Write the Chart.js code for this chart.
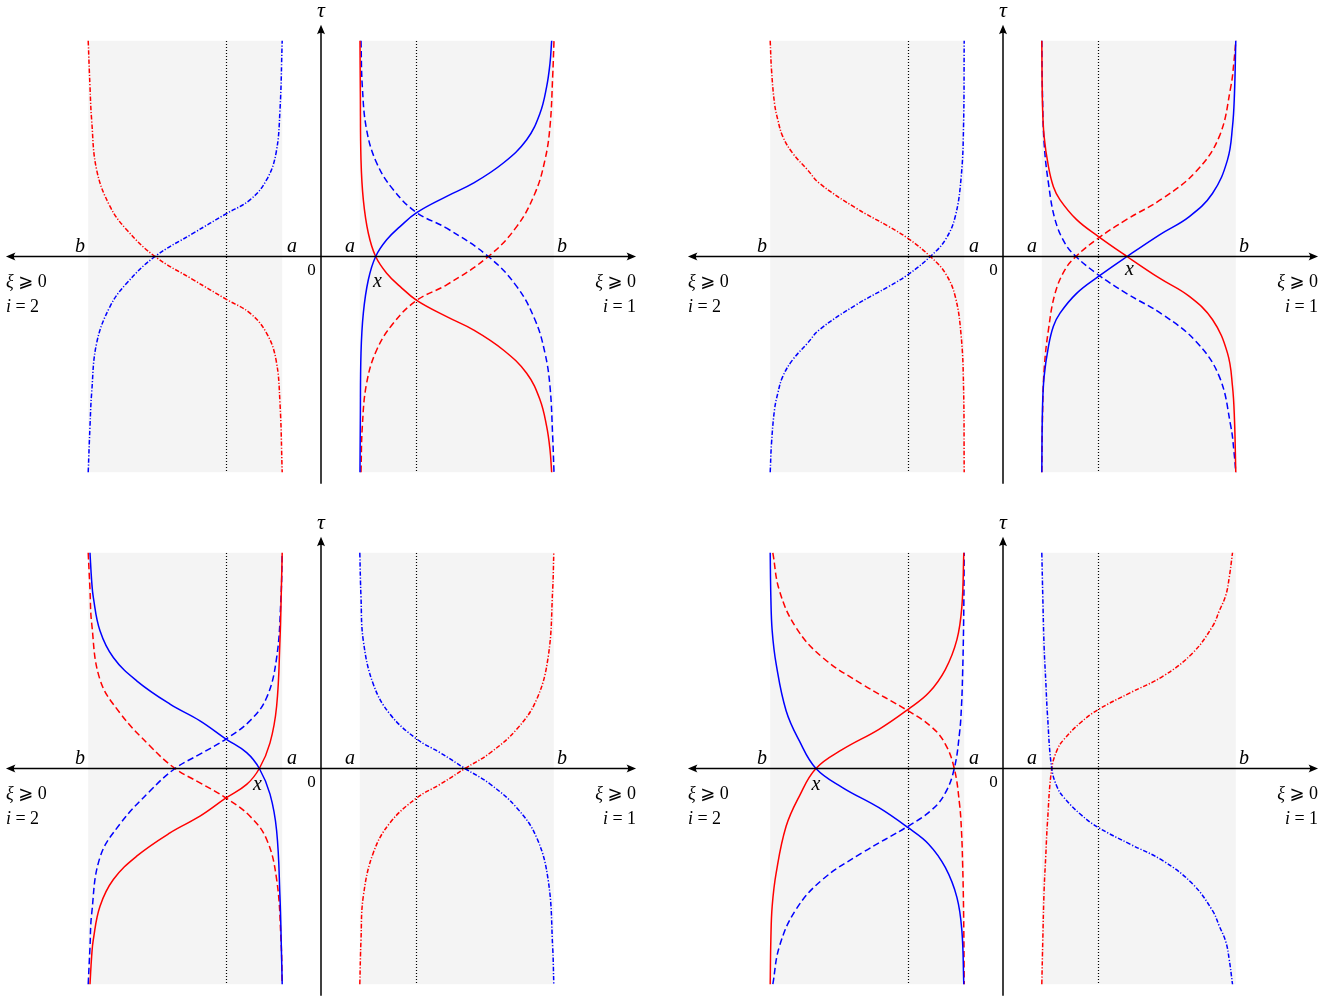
<!DOCTYPE html>
<html>
<head>
<meta charset="utf-8">
<script src="https://cdn.jsdelivr.net/npm/chart.js@4.4.1/dist/chart.umd.min.js"></script>
<style>
  body { margin: 0; background: #fff; }
  #wrap { position: relative; width: 1343px; height: 996px; overflow: hidden; }
  canvas { position: absolute; }
</style>
</head>
<body>
<div id="wrap">
  <canvas id="p1" width="671" height="512" style="left:0px;top:0px"></canvas>
  <canvas id="p2" width="661" height="512" style="left:682px;top:0px"></canvas>
  <canvas id="p3" width="671" height="484" style="left:0px;top:512px"></canvas>
  <canvas id="p4" width="661" height="484" style="left:682px;top:512px"></canvas>
</div>
<script>
// interval ends, midline and shading height (data units)
const A = 1, B = 6, MID = 2.46, SHADE = 5.56;
const tickNames = ['b', 'a', 'a', 'b'];
const tickAt = [-B, -A, A, B];

// top-left panel
const p1RightXi = [1.005, 1.014, 1.031, 1.091, 1.22, 1.409, 1.692, 2.036, 2.466, 3.239, 3.926, 4.699, 5.301, 5.644, 5.816, 5.902, 5.945];
const p1BlueSolid = [-5.56, -4.21, -2.49, -1.46, -0.6, 0, 0.43, 0.77, 1.13, 1.55, 1.89, 2.41, 3.01, 3.69, 4.38, 4.98, 5.56];
const p1RedSolid = [5.56, 4.21, 2.49, 1.46, 0.6, 0, -0.43, -0.77, -1.13, -1.55, -1.89, -2.41, -3.01, -3.69, -4.38, -4.98, -5.56];
const p1RightXiDash = [1.031, 1.065, 1.177, 1.435, 1.864, 2.466, 3.239, 4.313, 5.043, 5.515, 5.773, 5.902, 5.971, 6.005];
const p1BlueDashed = [5.56, 4.38, 3.26, 2.41, 1.72, 1.13, 0.73, 0, -0.77, -1.63, -2.49, -3.35, -4.64, -5.56];
const p1RedDashed = [-5.56, -4.38, -3.26, -2.41, -1.72, -1.13, -0.73, 0, 0.77, 1.63, 2.49, 3.35, 4.64, 5.56];
const p1LeftXi = [-6.0, -5.954, -5.911, -5.782, -5.438, -5.009, -4.278, -3.29, -2.448, -1.83, -1.4, -1.16, -1.057, -1.0];
const p1RedDashDot = [5.56, 4.38, 3.52, 2.23, 1.29, 0.69, 0, -0.6, -1.1, -1.46, -1.98, -2.66, -3.78, -5.56];
const p1BlueDashDot = [-5.56, -4.38, -3.52, -2.23, -1.29, -0.69, 0, 0.6, 1.1, 1.46, 1.98, 2.66, 3.78, 5.56];

// top-right panel
const p2RightXiSolid = [1.0, 1.017, 1.06, 1.171, 1.299, 1.47, 1.897, 2.453, 3.197, 4.034, 4.803, 5.402, 5.786, 5.915, 5.966, 6.0];
const p2RedSolid = [5.56, 3.95, 3.09, 2.32, 1.8, 1.46, 0.95, 0.52, 0, -0.56, -1.03, -1.63, -2.49, -3.35, -4.21, -5.56];
const p2BlueSolid = [-5.56, -3.95, -3.09, -2.32, -1.8, -1.46, -0.95, -0.52, 0, 0.56, 1.03, 1.63, 2.49, 3.35, 4.21, 5.56];
const p2RightXiDash = [1.0, 1.017, 1.06, 1.171, 1.342, 1.598, 1.88, 2.453, 3.179, 4.12, 4.974, 5.573, 5.872, 5.957, 6.0];
const p2RedDashed = [-5.56, -4.21, -2.92, -1.89, -0.95, -0.34, 0, 0.47, 0.95, 1.5, 2.19, 3.09, 4.38, 5.07, 5.56];
const p2BlueDashed = [5.56, 4.21, 2.92, 1.89, 0.95, 0.34, 0, -0.47, -0.95, -1.5, -2.19, -3.09, -4.38, -5.07, -5.56];
const p2LeftXi = [-6.0, -5.966, -5.889, -5.803, -5.675, -5.419, -5.034, -4.735, -3.795, -2.94, -2.453, -1.872, -1.487, -1.231, -1.077, -1.017, -1.0];
const p2RedDashDot = [5.56, 4.81, 3.95, 3.52, 3.09, 2.66, 2.23, 1.89, 1.25, 0.77, 0.47, 0, -0.43, -1.03, -2.06, -3.35, -5.56];
const p2BlueDashDot = [-5.56, -4.81, -3.95, -3.52, -3.09, -2.66, -2.23, -1.89, -1.25, -0.77, -0.47, 0, 0.43, 1.03, 2.06, 3.35, 5.56];

// bottom-left panel
const p3LeftXiSolid = [-5.954, -5.911, -5.868, -5.696, -5.352, -4.751, -3.892, -3.119, -2.448, -1.916, -1.589, -1.314, -1.143, -1.057, -1.022, -1.0];
const p3BlueSolid = [5.56, 4.84, 4.41, 3.55, 2.86, 2.26, 1.66, 1.23, 0.76, 0.41, 0, -0.66, -1.61, -3.32, -4.61, -5.56];
const p3RedSolid = [-5.56, -4.84, -4.41, -3.55, -2.86, -2.26, -1.66, -1.23, -0.76, -0.41, 0, 0.66, 1.61, 3.32, 4.61, 5.56];
const p3LeftXiDash = [-6.0, -5.954, -5.911, -5.696, -5.18, -4.407, -3.763, -3.119, -2.448, -1.83, -1.4, -1.143, -1.031, -1.0];
const p3BlueDashed = [-5.56, -4.61, -3.75, -2.29, -1.43, -0.58, 0, 0.37, 0.76, 1.23, 1.83, 2.86, 4.41, 5.56];
const p3RedDashed = [5.56, 4.61, 3.75, 2.29, 1.43, 0.58, 0, -0.37, -0.76, -1.23, -1.83, -2.86, -4.41, -5.56];
const p3RightXi = [1.0, 1.031, 1.091, 1.349, 1.778, 2.466, 3.067, 3.711, 4.356, 5.043, 5.558, 5.859, 5.971, 6.0];
const p3BlueDashDot = [5.56, 4.41, 3.29, 2.17, 1.4, 0.76, 0.41, 0, -0.4, -1.01, -1.78, -2.9, -4.61, -5.56];
const p3RedDashDot = [-5.56, -4.41, -3.29, -2.17, -1.4, -0.76, -0.41, 0, 0.4, 1.01, 1.78, 2.9, 4.61, 5.56];

// bottom-right panel
const p4LeftXiSolid = [-6.0, -5.983, -5.949, -5.846, -5.59, -5.248, -4.821, -4.137, -3.197, -2.453, -1.915, -1.487, -1.188, -1.06, -1.01];
const p4BlueSolid = [5.56, 4.41, 3.55, 2.69, 1.49, 0.71, 0, -0.49, -1.01, -1.52, -1.95, -2.55, -3.32, -4.18, -5.56];
const p4RedSolid = [-5.56, -4.41, -3.55, -2.69, -1.49, -0.71, 0, 0.49, 1.01, 1.52, 1.95, 2.55, 3.32, 4.18, 5.56];
const p4LeftXiDash = [-5.932, -5.761, -5.333, -4.65, -3.624, -2.453, -1.829, -1.487, -1.256, -1.12, -1.07, -1.04, -1.015, -1.0];
const p4RedDashed = [5.56, 4.58, 3.63, 2.86, 2.17, 1.49, 1.06, 0.63, 0, -0.92, -1.61, -2.47, -3.75, -5.56];
const p4BlueDashed = [-5.56, -4.58, -3.63, -2.86, -2.17, -1.49, -1.06, -0.63, 0, 0.92, 1.61, 2.47, 3.75, 5.56];
const p4RightXi = [1.0, 1.026, 1.06, 1.102, 1.145, 1.256, 1.4, 1.571, 1.997, 2.457, 3.274, 4.126, 4.893, 5.404, 5.574, 5.744, 5.83, 5.915];
const p4BlueDashDot = [5.56, 4.41, 3.12, 2.26, 1.4, 0, -0.49, -0.75, -1.18, -1.52, -1.95, -2.38, -2.98, -3.67, -4.06, -4.47, -4.92, -5.56];
const p4RedDashDot = [-5.56, -4.41, -3.12, -2.26, -1.4, 0, 0.49, 0.75, 1.18, 1.52, 1.95, 2.38, 2.98, 3.67, 4.06, 4.47, 4.92, 5.56];

// where the "x" mark sits in each panel
const crossXi = [1.456, 3.26, -1.64, -4.82];
const crossTau = [-0.65, -0.35, -0.43, -0.43];

const U = 38.8;          // px per data unit
const ORIGIN_X = 321, ORIGIN_Y = 256.5;
const AXIS_END = 8.12, TAU_TOP = 5.97, TAU_BOTTOM = -5.86;
const RED = '#ff0000', BLUE = '#0000ff';
const SOLID = [], DASH = [6.5, 3.5], DASHDOT = [4.5, 1.8, 1.2, 1.8];
const SERIF = '"Liberation Serif", "DejaVu Serif", "DejaVu Sans", serif';

function curve(xi, tau, color, dash) {
  return {
    data: xi.map((x, i) => ({ x: x, y: tau[i] })),
    showLine: true,
    borderColor: color,
    borderWidth: 1.5,
    borderDash: dash,
    pointRadius: 0,
    tension: 0.4,
    fill: false
  };
}

function arrow(ctx, x, y, angle) {
  ctx.save();
  ctx.translate(x, y);
  ctx.rotate(angle);
  ctx.beginPath();
  ctx.moveTo(0, 0);
  ctx.lineTo(-9.5, -4);
  ctx.quadraticCurveTo(-6.5, 0, -9.5, 4);
  ctx.closePath();
  ctx.fill();
  ctx.restore();
}

// draws text made of italic / upright pieces
function drawRuns(ctx, parts, x, y, align) {
  const fonts = parts.map(p => (p[1] ? 'italic ' : '') + '18px ' + SERIF);
  const widths = parts.map((p, i) => { ctx.font = fonts[i]; return ctx.measureText(p[0]).width; });
  const total = widths.reduce((s, w) => s + w, 0);
  let cx = align === 'right' ? x - total : align === 'center' ? x - total / 2 : x;
  ctx.textAlign = 'left';
  ctx.textBaseline = 'alphabetic';
  parts.forEach((p, i) => { ctx.font = fonts[i]; ctx.fillText(p[0], cx, y); cx += widths[i]; });
}

const deco = {
  id: 'deco',
  beforeDatasetsDraw(chart) {
    const ctx = chart.ctx;
    const X = v => chart.scales.x.getPixelForValue(v);
    const Y = v => chart.scales.y.getPixelForValue(v);
    ctx.save();
    ctx.fillStyle = '#f4f4f4';
    [[A, B], [-B, -A]].forEach(([l, r]) => {
      ctx.fillRect(X(l), Y(SHADE), X(r) - X(l), Y(-SHADE) - Y(SHADE));
    });
    ctx.strokeStyle = '#000';
    ctx.lineWidth = 1.2;
    ctx.setLineDash([1, 2]);
    [MID, -MID].forEach(m => {
      const px = Math.round(X(m)) + 0.5;
      ctx.beginPath();
      ctx.moveTo(px, Math.round(Y(SHADE)));
      ctx.lineTo(px, Math.round(Y(-SHADE)));
      ctx.stroke();
    });
    ctx.restore();
  },
  afterDatasetsDraw(chart, args, opts) {
    const ctx = chart.ctx;
    const X = v => chart.scales.x.getPixelForValue(v);
    const Y = v => chart.scales.y.getPixelForValue(v);
    const x0 = X(0), y0 = Y(0);
    ctx.save();
    ctx.strokeStyle = '#000';
    ctx.fillStyle = '#000';
    ctx.lineWidth = 1.5;
    ctx.setLineDash([]);

    // ξ axis, arrows both ways
    ctx.beginPath();
    ctx.moveTo(X(-AXIS_END) + 5, y0);
    ctx.lineTo(X(AXIS_END) - 5, y0);
    ctx.stroke();
    arrow(ctx, X(AXIS_END), y0, 0);
    arrow(ctx, X(-AXIS_END), y0, Math.PI);

    // τ axis
    ctx.beginPath();
    ctx.moveTo(x0, Y(TAU_BOTTOM));
    ctx.lineTo(x0, Y(TAU_TOP) + 5);
    ctx.stroke();
    arrow(ctx, x0, Y(TAU_TOP), -Math.PI / 2);

    ctx.font = 'italic 22px ' + SERIF;
    ctx.textAlign = 'center';
    ctx.textBaseline = 'alphabetic';
    ctx.fillText('τ', x0, Y(TAU_TOP) - 8);

    // a / b names, placed on the outer side of each shaded strip
    tickNames.forEach((name, i) => {
      const v = tickAt[i];
      const shift = Math.abs(v) === B ? Math.sign(v) * 0.21 : -Math.sign(v) * 0.25;
      ctx.font = 'italic 20px ' + SERIF;
      ctx.textAlign = 'center';
      ctx.fillText(name, X(v + shift), y0 - 5);
    });

    ctx.font = '17px ' + SERIF;
    ctx.textAlign = 'center';
    ctx.fillText('0', X(-0.245), y0 + 18.5);

    drawRuns(ctx, [['ξ', true], [' ⩾ 0', false]], X(-AXIS_END), y0 + 30, 'left');
    drawRuns(ctx, [['i', true], [' = 2', false]], X(-AXIS_END), y0 + 55, 'left');
    drawRuns(ctx, [['ξ', true], [' ⩾ 0', false]], X(AXIS_END), y0 + 30, 'right');
    drawRuns(ctx, [['i', true], [' = 1', false]], X(AXIS_END), y0 + 55, 'right');

    ctx.font = 'italic 20px ' + SERIF;
    ctx.textAlign = 'center';
    ctx.fillText('x', X(opts.markXi), Y(opts.markTau) + 5);
    ctx.restore();
  }
};

function makePanel(id, datasets, k) {
  const canvas = document.getElementById(id);
  const w = canvas.width, h = canvas.height;
  new Chart(canvas, {
    type: 'scatter',
    data: { datasets: datasets },
    options: {
      responsive: false,
      animation: false,
      layout: { padding: 0 },
      plugins: {
        legend: { display: false },
        tooltip: { enabled: false },
        deco: { markXi: crossXi[k], markTau: crossTau[k] }
      },
      scales: {
        x: { type: 'linear', display: false, min: -ORIGIN_X / U, max: (w - ORIGIN_X) / U },
        y: { type: 'linear', display: false, min: -(h - ORIGIN_Y) / U, max: ORIGIN_Y / U }
      }
    },
    plugins: [deco]
  });
}

makePanel('p1', [
  curve(p1RightXi, p1BlueSolid, BLUE, SOLID),
  curve(p1RightXi, p1RedSolid, RED, SOLID),
  curve(p1RightXiDash, p1BlueDashed, BLUE, DASH),
  curve(p1RightXiDash, p1RedDashed, RED, DASH),
  curve(p1LeftXi, p1RedDashDot, RED, DASHDOT),
  curve(p1LeftXi, p1BlueDashDot, BLUE, DASHDOT)
], 0);

makePanel('p2', [
  curve(p2RightXiSolid, p2RedSolid, RED, SOLID),
  curve(p2RightXiSolid, p2BlueSolid, BLUE, SOLID),
  curve(p2RightXiDash, p2RedDashed, RED, DASH),
  curve(p2RightXiDash, p2BlueDashed, BLUE, DASH),
  curve(p2LeftXi, p2RedDashDot, RED, DASHDOT),
  curve(p2LeftXi, p2BlueDashDot, BLUE, DASHDOT)
], 1);

makePanel('p3', [
  curve(p3LeftXiSolid, p3BlueSolid, BLUE, SOLID),
  curve(p3LeftXiSolid, p3RedSolid, RED, SOLID),
  curve(p3LeftXiDash, p3BlueDashed, BLUE, DASH),
  curve(p3LeftXiDash, p3RedDashed, RED, DASH),
  curve(p3RightXi, p3BlueDashDot, BLUE, DASHDOT),
  curve(p3RightXi, p3RedDashDot, RED, DASHDOT)
], 2);

makePanel('p4', [
  curve(p4LeftXiSolid, p4BlueSolid, BLUE, SOLID),
  curve(p4LeftXiSolid, p4RedSolid, RED, SOLID),
  curve(p4LeftXiDash, p4RedDashed, RED, DASH),
  curve(p4LeftXiDash, p4BlueDashed, BLUE, DASH),
  curve(p4RightXi, p4BlueDashDot, BLUE, DASHDOT),
  curve(p4RightXi, p4RedDashDot, RED, DASHDOT)
], 3);
</script>
</body>
</html>
